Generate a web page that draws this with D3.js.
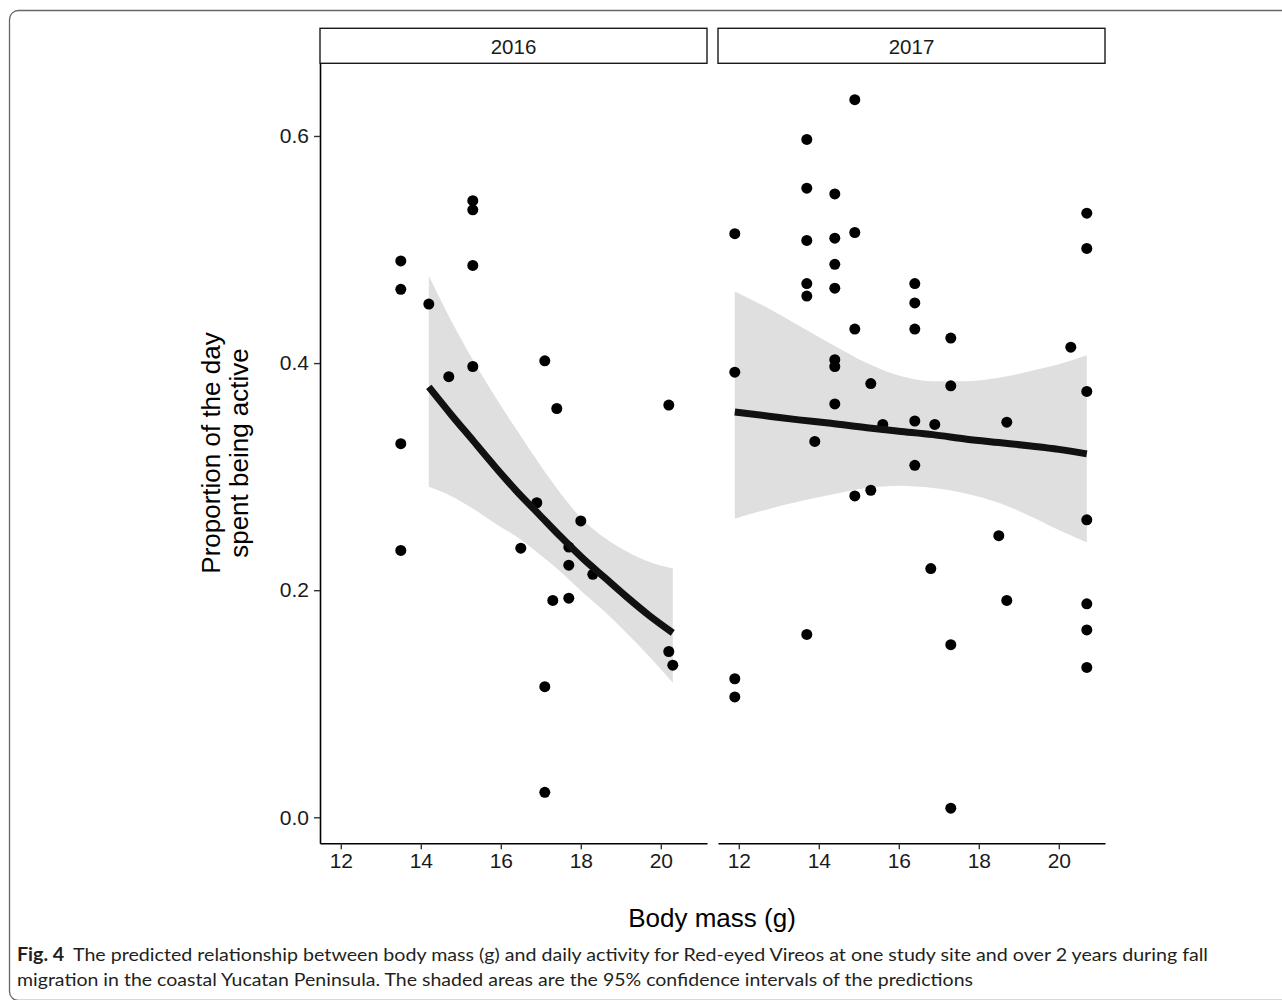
<!DOCTYPE html>
<html>
<head>
<meta charset="utf-8">
<script src="https://cdnjs.cloudflare.com/ajax/libs/d3/7.8.5/d3.min.js"></script>
<style>
    body { margin: 0; background: #fff; }
    svg { display: block; }
</style>
</head>
<body>
<svg id="FigureSVG" width="1282" height="1000"></svg>
<script>
// facet labels and axis ticks
var panelYears = ["2016", "2017"];
var massTicks = [12, 14, 16, 18, 20];
var activityTicks = [0, 0.2, 0.4, 0.6];

// observed birds, 2016
var mass2016 = [15.3, 15.3, 13.5, 15.3, 13.5, 14.2, 17.1, 15.3, 14.7, 17.4, 20.2, 13.5, 16.9,
    18.0, 13.5, 16.5, 17.7, 17.7, 18.3, 17.3, 17.7, 20.2, 20.3, 17.1, 17.1];
var activity2016 = [0.543, 0.535, 0.490, 0.486, 0.465, 0.452, 0.402, 0.397, 0.388, 0.360, 0.363, 0.329, 0.277,
    0.261, 0.235, 0.237, 0.238, 0.222, 0.214, 0.191, 0.193, 0.146, 0.134, 0.115, 0.022];

// observed birds, 2017
var mass2017 = [14.9, 13.7, 13.7, 14.4, 11.9, 13.7, 14.4, 14.9, 20.7, 20.7, 14.4, 13.7, 13.7, 14.4,
    16.4, 16.4, 16.4, 14.9, 17.3, 20.3, 14.4, 14.4, 11.9, 15.3, 17.3, 20.7, 14.4, 15.6, 16.4, 16.9,
    18.7, 13.9, 16.4, 15.3, 14.9, 20.7, 18.5, 16.8, 18.7, 20.7, 20.7, 13.7, 17.3, 20.7, 11.9, 11.9, 17.3];
var activity2017 = [0.632, 0.597, 0.554, 0.549, 0.514, 0.508, 0.510, 0.515, 0.532, 0.501, 0.487, 0.470, 0.459, 0.466,
    0.470, 0.453, 0.430, 0.430, 0.422, 0.414, 0.403, 0.397, 0.392, 0.382, 0.380, 0.375, 0.364, 0.346, 0.349, 0.346,
    0.348, 0.331, 0.310, 0.288, 0.283, 0.262, 0.248, 0.219, 0.191, 0.188, 0.165, 0.161, 0.152, 0.132, 0.122, 0.106, 0.008];

// predictions and 95% CI, 2016
var fitMass2016 = [14.2, 14.75, 15.3, 15.85, 16.4, 16.95, 17.5, 18.05, 18.6, 19.15, 19.7, 20.3];
var fitValue2016 = [0.379, 0.355, 0.332, 0.309, 0.287, 0.267, 0.247, 0.228, 0.211, 0.194, 0.178, 0.1625];
var fitUpper2016 = [0.477, 0.438, 0.403, 0.371, 0.341, 0.312, 0.285, 0.262, 0.246, 0.234, 0.225, 0.219];
var fitLower2016 = [0.291, 0.283, 0.272, 0.259, 0.247, 0.232, 0.216, 0.198, 0.181, 0.162, 0.142, 0.1185];

// predictions and 95% CI, 2017
var fitMass2017 = [11.9, 12.8, 13.5, 14.3, 15.2, 16.0, 16.85, 17.7, 18.5, 19.3, 20.0, 20.7];
var fitValue2017 = [0.357, 0.353, 0.350, 0.347, 0.343, 0.340, 0.337, 0.333, 0.330, 0.327, 0.324, 0.320];
var fitUpper2017 = [0.463, 0.447, 0.433, 0.417, 0.400, 0.389, 0.384, 0.384, 0.387, 0.393, 0.399, 0.407];
var fitLower2017 = [0.263, 0.272, 0.278, 0.284, 0.290, 0.292, 0.290, 0.285, 0.277, 0.265, 0.253, 0.242];

var captionBold = "Fig. 4";
var captionLine1 = "The predicted relationship between body mass (g) and daily activity for Red-eyed Vireos at one study site and over 2 years during fall";
var captionLine2 = "migration in the coastal Yucatan Peninsula. The shaded areas are the 95% confidence intervals of the predictions";


/**
 * Draws the whole figure: frame, two facets, axis titles and caption
 */
function drawActivityFigure()
{
    var svg = d3.select("#FigureSVG");
    var chartFont = "'Liberation Sans', Arial, Helvetica, sans-serif";

    var panelTop = 63.3, panelBottom = 843.3, panelWidth = 387;
    var panelLeft = [320, 718];

    var y = d3.scaleLinear()
            .domain([-0.0229, 0.664])
            .range([panelBottom, panelTop]);

    // outer rounded frame of the figure
    svg.append("rect")
            .attr("x", 9.5)
            .attr("y", 10.5)
            .attr("width", 1300)
            .attr("height", 990)
            .attr("rx", 9)
            .style("fill", "none")
            .style("stroke", "#666")
            .style("stroke-width", "1.3px");

    var panels = [
        {mass: mass2016, act: activity2016, fx: fitMass2016, fy: fitValue2016, up: fitUpper2016, lo: fitLower2016},
        {mass: mass2017, act: activity2017, fx: fitMass2017, fy: fitValue2017, up: fitUpper2017, lo: fitLower2017}
    ];

    panels.forEach(function(p, i) {
        var x = d3.scaleLinear()
                .domain([11.48, 21.155])
                .range([panelLeft[i], panelLeft[i] + panelWidth]);

        var g = svg.append("g");

        // strip on top
        g.append("rect")
                .attr("x", panelLeft[i])
                .attr("y", 28.3)
                .attr("width", panelWidth)
                .attr("height", 35)
                .style("fill", "#fff")
                .style("stroke", "#1a1a1a")
                .style("stroke-width", "1.4px");
        g.append("text")
                .attr("x", panelLeft[i] + panelWidth / 2)
                .attr("y", 53.5)
                .attr("text-anchor", "middle")
                .style("font-family", chartFont)
                .style("font-size", "20.5px")
                .style("fill", "#1a1a1a")
                .text(panelYears[i]);

        // confidence band
        var area = d3.area()
                .x(function(d, k) { return x(p.fx[k]); })
                .y0(function(d, k) { return y(p.lo[k]); })
                .y1(function(d, k) { return y(p.up[k]); })
                .curve(d3.curveMonotoneX);
        g.append("path")
                .datum(p.fx)
                .attr("d", area)
                .style("fill", "#dfdfdf")
                .style("stroke", "none");

        // observed points
        g.selectAll("circle")
                .data(p.mass)
                .enter()
                .append("circle")
                .attr("cx", function(d) { return x(d); })
                .attr("cy", function(d, k) { return y(p.act[k]); })
                .attr("r", 5.5)
                .style("fill", "#000");

        // predicted line
        var line = d3.line()
                .x(function(d, k) { return x(p.fx[k]); })
                .y(function(d, k) { return y(p.fy[k]); })
                .curve(d3.curveMonotoneX);
        g.append("path")
                .datum(p.fx)
                .attr("d", line)
                .style("fill", "none")
                .style("stroke", "#111")
                .style("stroke-width", "7px");

        // bottom axis
        var xAxis = g.append("g")
                .attr("transform", "translate(0," + panelBottom + ")")
                .call(d3.axisBottom(x).tickValues(massTicks).tickSize(6).tickSizeOuter(0).tickPadding(4));
        styleAxis(xAxis, chartFont);

        // left axis only on first facet
        if (i === 0) {
            var yAxis = g.append("g")
                    .attr("transform", "translate(" + panelLeft[i] + ",0)")
                    .call(d3.axisLeft(y).tickValues(activityTicks).tickFormat(d3.format(".1f"))
                            .tickSize(6).tickSizeOuter(0).tickPadding(5));
            styleAxis(yAxis, chartFont);
        }
    });

    // axis titles
    svg.append("text")
            .attr("x", 712)
            .attr("y", 926.5)
            .attr("text-anchor", "middle")
            .style("font-family", chartFont)
            .style("font-size", "26px")
            .style("fill", "#000")
            .text("Body mass (g)");

    var yTitle = svg.append("text")
            .attr("transform", "translate(0,453) rotate(-90)")
            .attr("text-anchor", "middle")
            .style("font-family", chartFont)
            .style("font-size", "26px")
            .style("fill", "#000");
    yTitle.append("tspan").attr("x", 0).attr("y", 220).text("Proportion of the day");
    yTitle.append("tspan").attr("x", 0).attr("y", 248).text("spent being active");

    // caption
    var capFont = "Lato, 'Open Sans', sans-serif";
    var cap1 = svg.append("text")
            .attr("x", 17)
            .attr("y", 961)
            .attr("textLength", 1191)
            .attr("lengthAdjust", "spacingAndGlyphs")
            .style("font-family", capFont)
            .style("font-size", "18px")
            .style("fill", "#231f20");
    cap1.append("tspan").style("font-weight", "bold").text(captionBold);
    cap1.append("tspan").attr("dx", 8).text(captionLine1);

    svg.append("text")
            .attr("x", 17)
            .attr("y", 986)
            .attr("textLength", 956)
            .attr("lengthAdjust", "spacingAndGlyphs")
            .style("font-family", capFont)
            .style("font-size", "18px")
            .style("fill", "#231f20")
            .text(captionLine2);
}

/**
 * Gives the d3 axis the ggplot classic look
 * @param {type} axis
 * @returns {undefined}
 */
function styleAxis(axis, font)
{
    axis.select(".domain")
            .style("stroke", "#000")
            .style("stroke-width", "1.6px");
    axis.selectAll(".tick line")
            .style("stroke", "#333")
            .style("stroke-width", "1.4px");
    axis.selectAll(".tick text")
            .style("font-family", font)
            .style("font-size", "21px")
            .style("fill", "#1a1a1a");
}

drawActivityFigure();
</script>
</body>
</html>
